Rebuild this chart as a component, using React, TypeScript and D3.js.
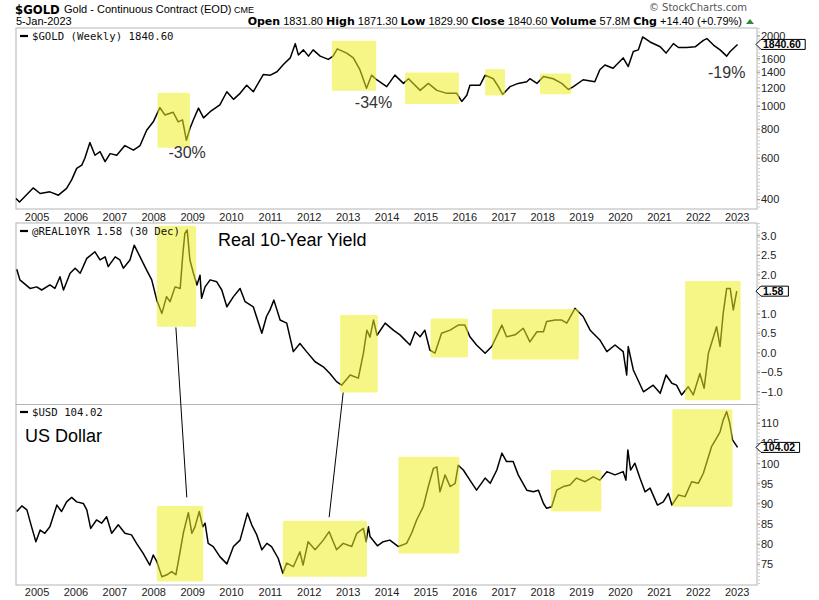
import React from "react";
import * as d3 from "d3";

// ---------- DATA (decimal years / values) ----------
const goldYears = [
  2004.46, 2004.55, 2004.9, 2005.08, 2005.33, 2005.55, 2005.76, 2005.89, 2006.02, 2006.15, 2006.23, 2006.36,
  2006.49, 2006.62, 2006.75, 2006.88, 2007.05, 2007.26, 2007.48, 2007.65, 2007.82, 2007.99, 2008.16, 2008.29,
  2008.5, 2008.63, 2008.74, 2008.84, 2008.93, 2009.02, 2009.15, 2009.28, 2009.45, 2009.7, 2009.88, 2010.05,
  2010.22, 2010.39, 2010.56, 2010.82, 2011.0, 2011.17, 2011.34, 2011.51, 2011.64, 2011.72, 2011.85, 2011.98,
  2012.1, 2012.28, 2012.49, 2012.61, 2012.72, 2012.96, 2013.13, 2013.3, 2013.47, 2013.6, 2013.73, 2013.99,
  2014.2, 2014.42, 2014.55, 2014.85, 2015.06, 2015.28, 2015.54, 2015.79, 2015.92, 2016.05, 2016.13, 2016.39,
  2016.52, 2016.73, 2016.86, 2016.97, 2017.16, 2017.37, 2017.59, 2017.67, 2017.85, 2018.02, 2018.27, 2018.49,
  2018.66, 2018.79, 2019.04, 2019.34, 2019.47, 2019.6, 2019.81, 2020.07, 2020.2, 2020.33, 2020.46, 2020.57,
  2020.76, 2021.02, 2021.17, 2021.36, 2021.49, 2021.7, 2021.92, 2022.13, 2022.22, 2022.39, 2022.56, 2022.73,
  2022.82, 2023.01,
];
const goldValues = [
  404, 390, 448, 424, 431, 417, 446, 485, 543, 561, 600, 700,
  618, 640, 580, 628, 618, 680, 650, 680, 791, 859, 988, 919,
  944, 859, 876, 716, 804, 876, 983, 893, 949, 1016, 1155, 1072,
  1137, 1232, 1155, 1369, 1360, 1406, 1515, 1612, 1855, 1660, 1745, 1640,
  1745, 1640, 1588, 1640, 1762, 1690, 1612, 1435, 1196, 1360, 1300, 1215,
  1360, 1254, 1313, 1171, 1254, 1171, 1137, 1137, 1050, 1116, 1232, 1232,
  1360, 1313, 1215, 1125, 1215, 1254, 1275, 1313, 1254, 1342, 1313, 1254,
  1181, 1215, 1300, 1275, 1435, 1503, 1455, 1612, 1480, 1717, 1745, 1982,
  1886, 1800, 1690, 1855, 1786, 1786, 1797, 1917, 1950, 1830, 1745, 1640,
  1717, 1840.6,
];

const yieldYears = [
  2004.48, 2004.56, 2004.82, 2004.99, 2005.12, 2005.33, 2005.46, 2005.59, 2005.68, 2005.85, 2005.98, 2006.11,
  2006.28, 2006.49, 2006.62, 2006.75, 2006.83, 2007.01, 2007.13, 2007.22, 2007.39, 2007.5, 2007.65, 2007.82,
  2007.95, 2008.08, 2008.21, 2008.33, 2008.42, 2008.55, 2008.68, 2008.75, 2008.8, 2008.86, 2008.93, 2009.02,
  2009.11, 2009.19, 2009.23, 2009.32, 2009.45, 2009.62, 2009.75, 2009.88, 2010.05, 2010.22, 2010.35, 2010.56,
  2010.78, 2010.9, 2010.99, 2011.09, 2011.25, 2011.42, 2011.59, 2011.76, 2011.93, 2012.15, 2012.36, 2012.53,
  2012.7, 2012.83, 2013.05, 2013.26, 2013.39, 2013.48, 2013.56, 2013.65, 2013.74, 2013.95, 2014.16, 2014.33,
  2014.59, 2014.72, 2014.85, 2014.97, 2015.1, 2015.23, 2015.4, 2015.62, 2015.83, 2016.0, 2016.13, 2016.3,
  2016.52, 2016.69, 2016.95, 2017.07, 2017.29, 2017.5, 2017.67, 2017.85, 2018.02, 2018.1, 2018.32, 2018.49,
  2018.62, 2018.83, 2019.04, 2019.22, 2019.47, 2019.65, 2019.86, 2020.07, 2020.16, 2020.2, 2020.33, 2020.59,
  2020.84, 2021.02, 2021.17, 2021.32, 2021.44, 2021.57, 2021.74, 2021.87, 2022.04, 2022.15, 2022.26, 2022.47,
  2022.56, 2022.64, 2022.73, 2022.82, 2022.9, 2022.99,
];
const yieldValues = [
  2.14, 1.87, 1.65, 1.69, 1.61, 1.74, 1.65, 1.95, 1.61, 2.04, 2.17, 2.04,
  2.42, 2.59, 2.38, 2.46, 2.21, 2.46, 2.38, 2.17, 2.38, 2.76, 2.46, 2.12,
  1.87, 1.35, 1.01, 1.44, 1.31, 1.69, 1.65, 2.55, 3.06, 3.15, 2.38, 2.04,
  1.74, 1.99, 1.4, 1.69, 1.87, 1.82, 1.61, 1.18, 1.44, 1.65, 1.31, 1.18,
  0.5, 0.93, 1.1, 1.35, 0.84, 0.76, 0.03, 0.24, 0.03, -0.23, -0.36, -0.53,
  -0.74, -0.83, -0.57, -0.65, -0.01, 0.58, 0.4, 0.84, 0.45, 0.76, 0.58, 0.46,
  0.2, 0.54, 0.41, 0.58, 0.07, -0.01, 0.5, 0.58, 0.71, 0.71, 0.41, 0.2,
  -0.01, 0.16, 0.71, 0.41, 0.46, 0.63, 0.28, 0.54, 0.54, 0.8, 0.84, 0.84,
  0.76, 1.14, 0.93, 0.58, 0.33, 0.03, 0.2, 0.03, -0.57, 0.16, -0.44, -1.0,
  -0.83, -1.04, -0.57, -0.78, -0.83, -1.08, -0.87, -1.08, -0.53, -0.91, -0.01, 0.67,
  0.16, 1.01, 1.65, 1.65, 1.1, 1.58,
];

const usdYears = [
  2004.48, 2004.61, 2004.74, 2004.86, 2004.97, 2005.08, 2005.2, 2005.33, 2005.51, 2005.63, 2005.76, 2005.89,
  2006.02, 2006.19, 2006.28, 2006.38, 2006.53, 2006.66, 2006.79, 2006.92, 2007.09, 2007.26, 2007.43, 2007.56,
  2007.73, 2007.9, 2007.99, 2008.08, 2008.21, 2008.34, 2008.46, 2008.57, 2008.67, 2008.76, 2008.89, 2008.98,
  2009.06, 2009.17, 2009.26, 2009.32, 2009.4, 2009.53, 2009.7, 2009.88, 2010.05, 2010.22, 2010.41, 2010.52,
  2010.65, 2010.78, 2010.91, 2011.03, 2011.2, 2011.32, 2011.42, 2011.59, 2011.76, 2011.84, 2011.97, 2012.15,
  2012.36, 2012.51, 2012.7, 2012.87, 2013.09, 2013.22, 2013.39, 2013.46, 2013.52, 2013.56, 2013.75, 2013.9,
  2014.07, 2014.29, 2014.5, 2014.63, 2014.76, 2014.93, 2015.06, 2015.19, 2015.28, 2015.36, 2015.49, 2015.62,
  2015.75, 2015.83, 2015.96, 2016.13, 2016.3, 2016.52, 2016.65, 2016.82, 2016.95, 2017.07, 2017.24, 2017.37,
  2017.59, 2017.76, 2017.89, 2018.02, 2018.1, 2018.23, 2018.36, 2018.53, 2018.7, 2018.87, 2019.09, 2019.3,
  2019.47, 2019.65, 2019.86, 2020.07, 2020.14, 2020.19, 2020.26, 2020.37, 2020.5, 2020.63, 2020.76, 2020.95,
  2021.1, 2021.23, 2021.32, 2021.49, 2021.66, 2021.83, 2022.0, 2022.13, 2022.34, 2022.47, 2022.56, 2022.64,
  2022.73, 2022.81, 2022.88, 2023.01,
];
const usdValues = [
  88.1, 89.5, 88.5, 84.3, 80.6, 83.5, 82.7, 84.3, 89.7, 88.1, 90.5, 91.6,
  90.5, 90.1, 88.5, 83.9, 86.0, 85.2, 86.8, 82.7, 84.8, 82.7, 82.3, 80.2,
  77.7, 74.8, 77.3, 75.7, 71.9, 72.4, 73.2, 72.4, 77.7, 82.7, 87.8, 82.7,
  84.3, 88.1, 84.3, 85.2, 80.2, 79.4, 76.9, 75.1, 79.4, 81.0, 87.7, 84.8,
  82.3, 78.6, 80.2, 79.4, 76.5, 72.8, 75.3, 74.4, 78.1, 74.8, 80.6, 78.6,
  81.0, 83.1, 78.6, 80.2, 79.4, 82.7, 83.9, 80.6, 84.3, 81.9, 79.6, 80.6,
  81.0, 79.4, 80.2, 82.7, 86.0, 89.3, 94.3, 98.8, 99.2, 93.0, 97.2, 94.3,
  95.1, 99.6, 98.4, 95.9, 93.4, 96.4, 95.1, 98.4, 102.6, 100.5, 100.5, 97.2,
  93.4, 93.0, 93.4, 90.1, 88.9, 89.3, 93.4, 94.3, 94.7, 96.4, 95.5, 96.7,
  95.9, 98.0, 97.2, 98.0, 95.9, 103.4, 98.4, 100.1, 96.4, 93.0, 93.9, 89.7,
  90.5, 92.6, 89.7, 92.2, 91.8, 95.5, 95.1, 97.6, 104.2, 106.3, 107.9, 110.8,
  112.9, 110.0, 105.9, 104.02,
];

// highlight boxes: [startYear, endYear, low, high]
const goldBoxes = [
  [2008.1, 2008.93, 665, 1143],
  [2012.58, 2013.72, 1166, 1908],
  [2014.46, 2015.85, 1023, 1397],
  [2016.52, 2017.03, 1114, 1444],
  [2017.93, 2018.73, 1128, 1384],
];
const yieldBoxes = [
  [2008.08, 2009.09, 0.67, 3.26],
  [2012.79, 2013.76, -1.02, 0.97],
  [2015.12, 2016.08, -0.12, 0.88],
  [2016.7, 2018.93, -0.17, 1.12],
  [2021.66, 2023.09, -1.22, 1.84],
];
const usdBoxes = [
  [2008.08, 2009.27, 70.7, 89.5],
  [2011.32, 2013.48, 71.9, 85.8],
  [2014.29, 2015.86, 77.7, 101.7],
  [2018.21, 2019.51, 88.1, 98.4],
  [2021.33, 2022.88, 89.3, 113.5],
];

// drawdown labels: [year, gold value at baseline, text]
const goldNotes: [number, number, string][] = [
  [2008.38, 603, "-30%"],
  [2013.17, 986, "-34%"],
  [2022.25, 1317, "-19%"],
];

// connectors: [yieldYear, yieldValue, usdYear, usdValue]
const connectors = [
  [2008.57, 0.65, 2008.85, 91.6],
  [2012.87, -1.02, 2012.51, 86.7],
];

const yearTicks = [2005, 2006, 2007, 2008, 2009, 2010, 2011, 2012, 2013, 2014, 2015, 2016, 2017, 2018, 2019, 2020, 2021, 2022, 2023];
const goldTicks = [400, 600, 800, 1000, 1200, 1400, 1600, 2000];
const yieldTicks = [-1, -0.5, 0, 0.5, 1, 2, 2.5, 3];
const usdTicks = [75, 80, 85, 90, 95, 100, 105, 110];

// ---------- LAYOUT ----------
const X0 = 16;
const X1 = 757;
const P1 = [28, 209];
const P2 = [223, 404.5];
const P3 = [404.5, 585];

const ARIAL = "'Liberation Sans', Arial, sans-serif";
const VERD = "'DejaVu Sans', Verdana, sans-serif";
const MONO = "'DejaVu Sans Mono', monospace";
const BORDER = "#b4b4b4";

function yd(y: number): Date {
  const yr = Math.floor(y);
  const s = Date.UTC(yr, 0, 1);
  const e = Date.UTC(yr + 1, 0, 1);
  return new Date(s + (y - yr) * (e - s));
}

const x = d3.scaleUtc().domain([yd(2004.46), yd(2023.51)]).range([X0, X1]);
const yGold = d3.scaleLog().domain([364, 2164]).range([P1[1], P1[0]]);
const yYield = d3.scaleLinear().domain([-1.326, 3.328]).range([P2[1], P2[0]]);
const yUsd = d3.scaleLinear().domain([69.86, 114.67]).range([P3[1], P3[0]]);

function linePath(years: number[], vals: number[], ys: (v: number) => number) {
  const pts = years.map((yr, i) => [yr, vals[i]] as [number, number]);
  return d3
    .line<[number, number]>()
    .x((d) => x(yd(d[0])))
    .y((d) => ys(d[1]))(pts) as string;
}

function Boxes({ boxes, ys }: { boxes: number[][]; ys: (v: number) => number }) {
  return (
    <g>
      {boxes.map((b, i) => {
        const xa = x(yd(b[0]));
        const xb = x(yd(b[1]));
        const ya = ys(b[3]);
        const yb = ys(b[2]);
        return <rect key={i} x={xa} y={ya} width={xb - xa} height={yb - ya} rx={1.5} fill="#eeee22" opacity={0.55} />;
      })}
    </g>
  );
}

function RightAxis({ ticks, ys, fmt, top, bottom }: { ticks: number[]; ys: (v: number) => number; fmt: (v: number) => string; top: number; bottom: number }) {
  return (
    <g>
      <line x1={X1 + 2} x2={X1 + 2} y1={top} y2={bottom} stroke="#999" strokeDasharray="1,2.5" />
      {ticks.map((t) => (
        <g key={t}>
          <line x1={X1} x2={X1 + 3} y1={ys(t)} y2={ys(t)} stroke="#999" />
          <text x={761} y={ys(t) + 4} fontFamily={ARIAL} fontSize={11} fill="#222">
            {fmt(t)}
          </text>
        </g>
      ))}
    </g>
  );
}

function Marker({ y, label }: { y: number; label: string }) {
  const w = label.length * 5.6 + 4;
  const h = 10;
  const d = `M${X1 - 1},${y} L${X1 + 4},${y - h / 2} L${X1 + 5 + w},${y - h / 2} L${X1 + 5 + w},${y + h / 2} L${X1 + 4},${y + h / 2} Z`;
  return (
    <g>
      <path d={d} fill="#fff" stroke="#000" strokeWidth={1} />
      <text x={X1 + 6} y={y + 4} fontFamily={ARIAL} fontWeight="bold" fontSize={10.5} fill="#000">
        {label}
      </text>
    </g>
  );
}

function XLabels({ y }: { y: number }) {
  return (
    <g>
      {yearTicks.map((t) => (
        <text key={t} x={x(yd(t))} y={y} textAnchor="middle" fontFamily={ARIAL} fontSize={11} fill="#222">
          {t}
        </text>
      ))}
    </g>
  );
}

function Legend({ y, label }: { y: number; label: string }) {
  return (
    <g>
      <line x1={20} x2={28} y1={y - 3.5} y2={y - 3.5} stroke="#000" strokeWidth={2.2} />
      <text x={32} y={y} fontFamily={MONO} fontSize={10.7} fill="#111">
        {label}
      </text>
    </g>
  );
}

export default function App() {
  const goldD = linePath(goldYears, goldValues, yGold);
  const yieldD = linePath(yieldYears, yieldValues, yYield);
  const usdD = linePath(usdYears, usdValues, yUsd);
  const fmt1 = d3.format(".1f");
  const fmt0 = d3.format("d");

  return (
    <svg width={819} height={600} style={{ position: "absolute", left: 0, top: 0, background: "#fff" }}>
      <rect x={0} y={0} width={819} height={600} fill="#fff" />

      {/* header */}
      <text x={15} y={14} fontFamily={VERD} fontWeight="bold" fontSize={11.7} fill="#000">
        $GOLD
      </text>
      <text x={64} y={13} fontFamily={ARIAL} fontSize={11} fill="#000">
        Gold - Continuous Contract (EOD)
        <tspan fontSize={9}> CME</tspan>
      </text>
      <text x={16} y={25} fontFamily={ARIAL} fontSize={11} fill="#000">
        5-Jan-2023
      </text>
      <text x={747} y={11} textAnchor="end" fontFamily={VERD} fontSize={10} fill="#555">
        © StockCharts.com
      </text>
      <text x={742} y={25} textAnchor="end" fontFamily={ARIAL} fontSize={11} fill="#000">
        <tspan fontFamily={VERD} fontWeight="bold">Open</tspan>
        <tspan> 1831.80 </tspan>
        <tspan fontFamily={VERD} fontWeight="bold">High</tspan>
        <tspan> 1871.30 </tspan>
        <tspan fontFamily={VERD} fontWeight="bold">Low</tspan>
        <tspan> 1829.90 </tspan>
        <tspan fontFamily={VERD} fontWeight="bold">Close</tspan>
        <tspan> 1840.60 </tspan>
        <tspan fontFamily={VERD} fontWeight="bold">Volume</tspan>
        <tspan> 57.8M </tspan>
        <tspan fontFamily={VERD} fontWeight="bold">Chg</tspan>
        <tspan> +14.40 (+0.79%)</tspan>
      </text>
      <path d="M746,24 L750,19 L754,24 Z" fill="#2e8b2e" />

      {/* panel frames */}
      <rect x={X0} y={P1[0]} width={X1 - X0} height={P1[1] - P1[0]} fill="#fff" stroke={BORDER} />
      <rect x={X0} y={P2[0]} width={X1 - X0} height={P2[1] - P2[0]} fill="#fff" stroke={BORDER} />
      <rect x={X0} y={P3[0]} width={X1 - X0} height={P3[1] - P3[0]} fill="#fff" stroke={BORDER} />

      {/* year ticks on panel 2 top */}
      {yearTicks.map((t) => (
        <line key={t} x1={x(yd(t))} x2={x(yd(t))} y1={P2[0] - 3} y2={P2[0]} stroke={BORDER} />
      ))}

      {/* series */}
      <path d={goldD} fill="none" stroke="#000" strokeWidth={1.5} strokeLinejoin="round" />
      <path d={yieldD} fill="none" stroke="#000" strokeWidth={1.5} strokeLinejoin="round" />
      <path d={usdD} fill="none" stroke="#000" strokeWidth={1.5} strokeLinejoin="round" />

      {/* highlight boxes */}
      <Boxes boxes={goldBoxes} ys={yGold} />
      <Boxes boxes={yieldBoxes} ys={yYield} />
      <Boxes boxes={usdBoxes} ys={yUsd} />

      {/* connectors */}
      {connectors.map((c, i) => (
        <line key={i} x1={x(yd(c[0]))} y1={yYield(c[1])} x2={x(yd(c[2]))} y2={yUsd(c[3])} stroke="#000" strokeWidth={1} />
      ))}

      {/* annotations */}
      {goldNotes.map((n, i) => (
        <text key={i} x={x(yd(n[0]))} y={yGold(n[1])} fontFamily={ARIAL} fontSize={16} fill="#333">
          {n[2]}
        </text>
      ))}
      <text x={218} y={246} fontFamily={ARIAL} fontSize={18} fill="#000">
        Real 10-Year Yield
      </text>
      <text x={25} y={442} fontFamily={ARIAL} fontSize={18} fill="#000">
        US Dollar
      </text>

      {/* legends */}
      <Legend y={39.5} label="$GOLD (Weekly) 1840.60" />
      <Legend y={234.5} label="@REAL10YR 1.58 (30 Dec)" />
      <Legend y={415.5} label="$USD 104.02" />

      {/* axes */}
      <XLabels y={221} />
      <XLabels y={596} />
      <RightAxis ticks={goldTicks} ys={yGold} fmt={fmt0} top={P1[0]} bottom={P1[1]} />
      <RightAxis ticks={yieldTicks} ys={yYield} fmt={fmt1} top={P2[0]} bottom={P2[1]} />
      <RightAxis ticks={usdTicks} ys={yUsd} fmt={fmt0} top={P3[0]} bottom={P3[1]} />

      <Marker y={yGold(1840.6)} label="1840.60" />
      <Marker y={yYield(1.58)} label="1.58" />
      <Marker y={yUsd(104.02)} label="104.02" />
    </svg>
  );
}
